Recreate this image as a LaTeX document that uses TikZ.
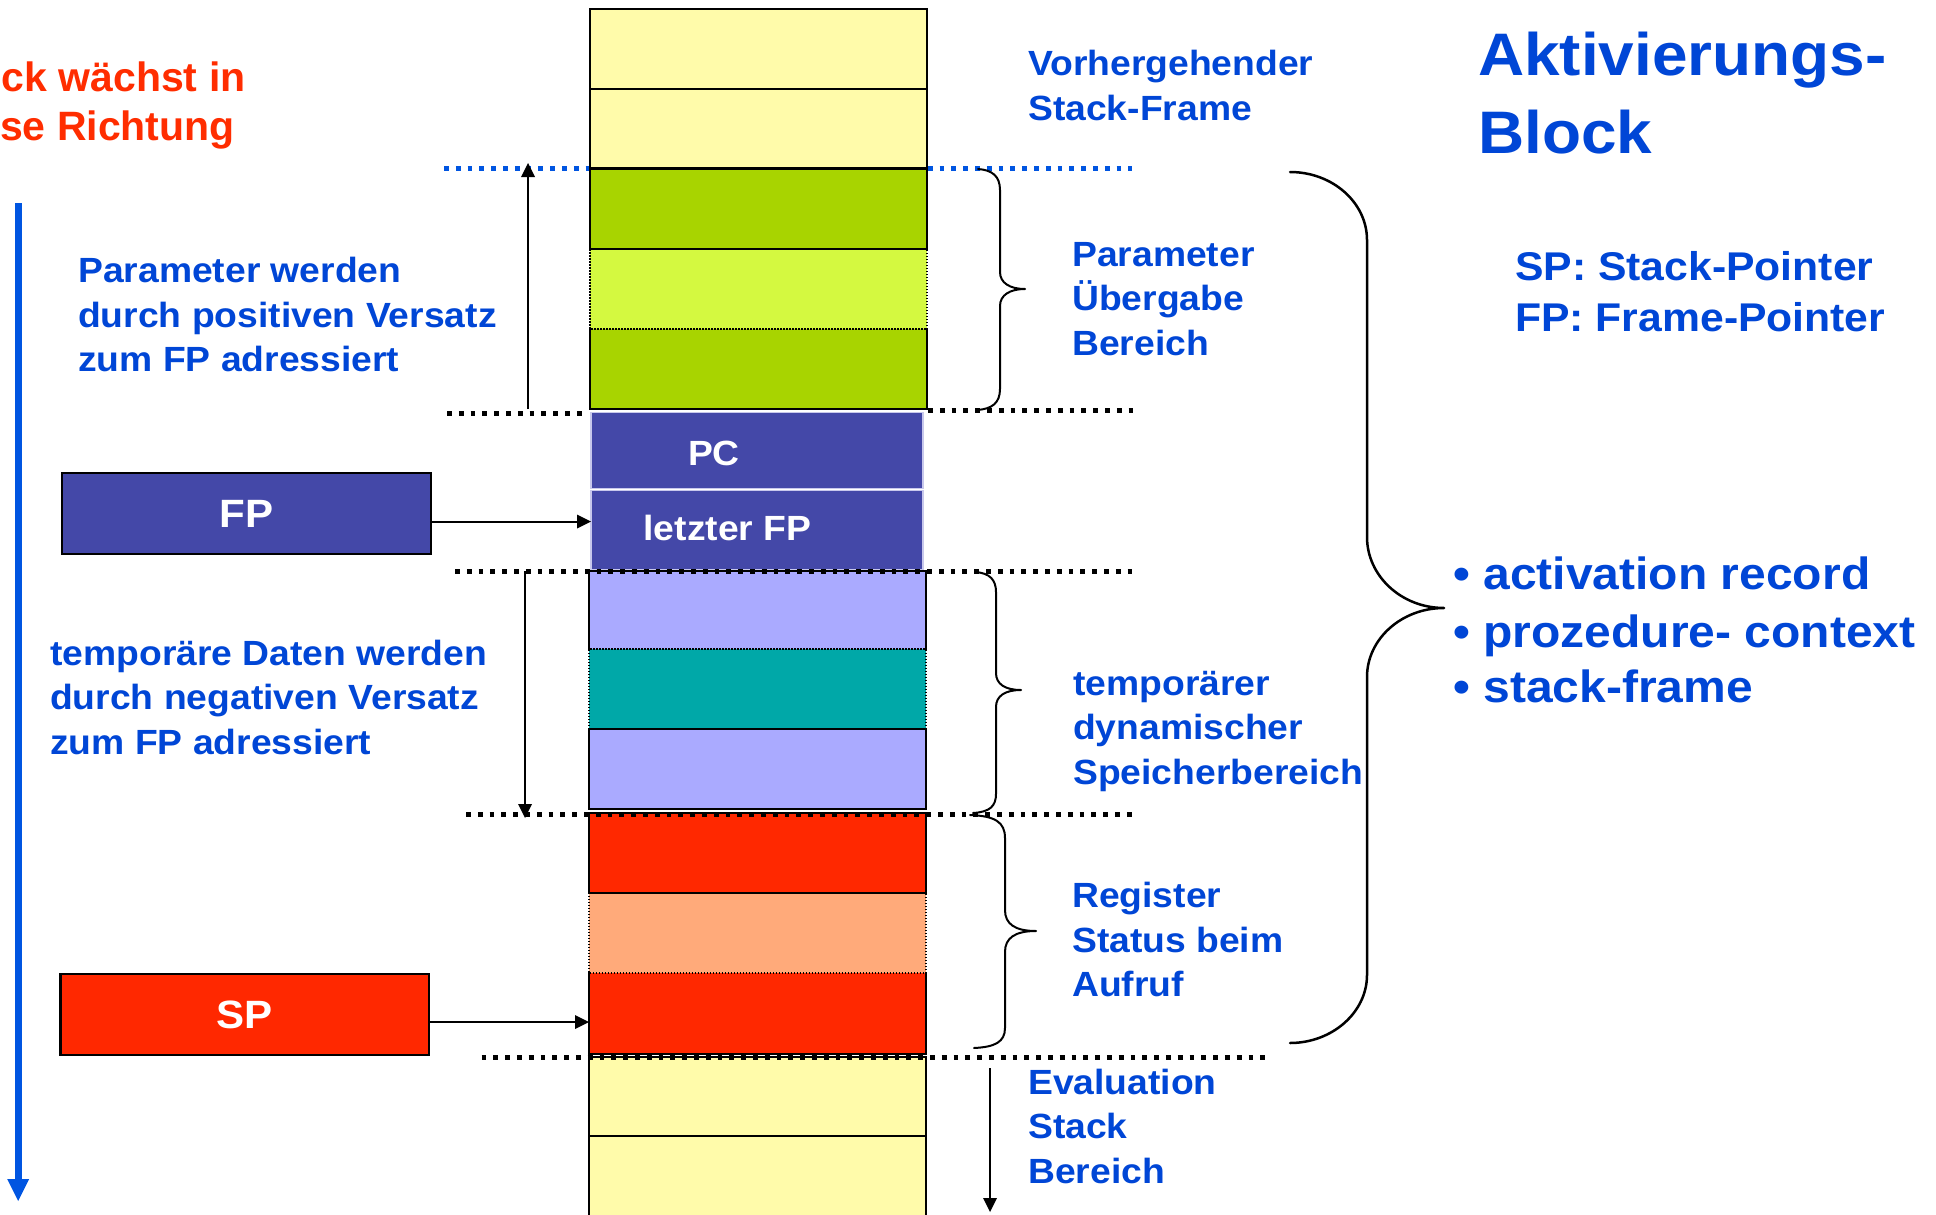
\documentclass[tikz,border=0pt]{standalone}
\usepackage{fontspec}
\setmainfont{Liberation Sans}[FakeStretch=1.065]
\newfontfamily\redfont{Liberation Sans}
\usetikzlibrary{arrows.meta}
\definecolor{tblue}{RGB}{0,70,214}
\definecolor{tred}{RGB}{255,45,0}
\definecolor{cyel}{RGB}{255,251,170}
\definecolor{cgrn}{RGB}{168,212,0}
\definecolor{clgrn}{RGB}{212,249,64}
\definecolor{cpur}{RGB}{68,72,168}
\definecolor{cpurb}{RGB}{200,200,236}
\definecolor{clav}{RGB}{170,170,255}
\definecolor{cteal}{RGB}{0,168,168}
\definecolor{cred}{RGB}{255,40,0}
\definecolor{cpeach}{RGB}{255,170,122}
\definecolor{cdots}{RGB}{0,85,225}
\newcommand{\mlines}[1]{\vtop{\halign{##\hfil\cr#1\crcr}}}
\begin{document}
\begin{tikzpicture}[x=1pt,y=-1pt,
  cell/.style={rectangle,inner sep=0pt,outer sep=0pt,anchor=north west,minimum width=337pt},
  pcell/.style={rectangle,inner sep=0pt,outer sep=0pt,anchor=north west,minimum width=332pt,fill=cpur,draw=cpurb,line width=1.5pt},
  solidb/.style={line width=2pt,line join=miter,line cap=rect},
  dotb/.style={line width=1.8pt,dash pattern=on 1.5pt off 1.5pt},
  sep/.style={line width=5pt,dash pattern=on 4.8pt off 7pt},
  txt/.style={font=\bfseries\fontsize{35}{44.5}\selectfont,text=tblue,inner sep=0pt,anchor=base west},
  wlbl/.style={font=\bfseries\fontsize{35}{44.5}\selectfont,text=white,inner sep=0pt,anchor=base},
  ptrbox/.style={rectangle,draw=black,line width=2.5pt,minimum width=369pt,minimum height=81pt,inner sep=0pt,text=white,font=\bfseries\fontsize{39.5}{46}\selectfont},
  ptr/.style={line width=2pt,-{Triangle[length=14pt,width=14pt,line width=0pt]}},
  brace/.style={line width=2pt,line cap=round,line join=round}
]
\fill[white] (0,0) rectangle (1936,1215);
\useasboundingbox (0,0) rectangle (1936,1215);

% separators under the stack
\draw[sep,cdots] (444,168.5) -- (1132,168.5);
\draw[sep] (447,413) -- (585,413);
\draw[sep] (928,410) -- (1136,410);

% stack cells
\node[cell,fill=cyel,minimum height=80pt] (y1) at (590,9) {};
\node[cell,fill=cyel,minimum height=79.5pt] (y2) at (590,89) {};
\node[cell,fill=cgrn,minimum height=80.5pt] (g1) at (590,168.5) {};
\node[cell,fill=clgrn,minimum height=80pt] (lg) at (590,249) {};
\node[cell,fill=cgrn,minimum height=80pt] (g2) at (590,329) {};
\node[pcell,minimum height=76pt] (pc) at (591,412.5) {};
\node[pcell,minimum height=79pt] (lfp) at (591,490.5) {};
\node[cell,fill=clav,minimum height=78.6pt] (l1) at (589,570.7) {};
\node[cell,fill=cteal,minimum height=79.7pt] (te) at (589,649.3) {};
\node[cell,fill=clav,minimum height=80.3pt] (l2) at (589,729) {};
\node[cell,fill=cred,minimum height=80pt] (r1) at (589,812.7) {};
\node[cell,fill=cpeach,minimum height=80.3pt] (pe) at (589,892.7) {};
\node[cell,fill=cred,minimum height=81pt] (r2) at (589,973) {};
\node[cell,fill=cyel,minimum height=79pt] (y3) at (589,1057) {};
\node[cell,fill=cyel,minimum height=90pt] (y4) at (589,1136) {};

% cell borders
\draw[solidb] (y1.north west) rectangle (y1.south east);
\draw[solidb] (y2.north west) rectangle (y2.south east);
\draw[solidb] (g1.north west) rectangle (g1.south east);
\draw[line width=3.5pt] (g1.north west) -- (g1.north east);
\draw[dotb] (lg.north west) -- (lg.south west) -- (lg.south east) -- (lg.north east);
\draw[solidb] (g2.north west) -- (g2.south west) -- (g2.south east) -- (g2.north east);
\draw[solidb] (l1.south west) -- (l1.north west) -- (l1.north east) -- (l1.south east);
\draw[dotb] (te.south west) -- (te.north west) -- (te.north east) -- (te.south east);
\draw[solidb] (l2.north west) rectangle (l2.south east);
\draw[solidb] (r1.north west) rectangle (r1.south east);
\draw[dotb] (pe.north west) -- (pe.south west) -- (pe.south east) -- (pe.north east);
\draw[solidb] (r2.north west) -- (r2.south west) -- (r2.south east) -- (r2.north east);
\draw[solidb] (y3.north west) rectangle (y3.south east);
\draw[solidb] (y4.south west) -- (y4.north west) -- (y4.north east) -- (y4.south east);

\node[wlbl] (pclbl) at (714,465) {PC};
\node[wlbl] (lfplbl) at (727.5,540) {letzter FP};

% separators over the stack
\draw[sep] (455,571) -- (1132,571);
\draw[sep] (466,814) -- (1132,814);
\draw[sep] (481.5,1057) -- (1265.5,1057);

% pointer boxes
\node[ptrbox,fill=cpur] (fpbox) at (246.5,513.5) {FP};
\node[ptrbox,fill=cred,minimum width=368.5pt] (spbox) at (244.75,1014.5) {SP};
\coordinate (fpa) at ([yshift=-8pt]fpbox.east);
\coordinate (spa) at ([yshift=-7.5pt]spbox.east);
\draw[ptr] (fpa) -- (fpa -| lfp.west);
\draw[ptr] (spa) -- (spa -| r2.west);

% offset arrows
\coordinate (ua0) at (528,409);
\coordinate (ua1) at (528,163);
\draw[ptr] (ua0) -- (ua1);
\coordinate (da0) at (525,571);
\coordinate (da1) at (525,818);
\draw[ptr] (da0) -- (da1);
\coordinate (ea0) at (990,1068);
\coordinate (ea1) at (990,1212);
\draw[ptr] (ea0) -- (ea1);

% growth arrow
\coordinate (ga0) at (18.2,203.3);
\coordinate (ga1) at (18.2,1201);
\draw[line width=7pt,cdots,-{Triangle[length=22pt,width=22pt,line width=0pt]}] (ga0) -- (ga1);

% braces
\draw[brace] (978,169) .. controls (992,170) and (1000,176) .. (1000,190) -- (1000,272)
  .. controls (1000,283) and (1010,289) .. (1025,289)
  .. controls (1010,289) and (1000,295) .. (1000,306) -- (1000,389)
  .. controls (1000,403) and (992,409) .. (977,410);
\draw[brace] (975,572) .. controls (990,573) and (996,580) .. (996,592) -- (996,673)
  .. controls (996,684) and (1005,690) .. (1021,690)
  .. controls (1005,690) and (996,696) .. (996,707) -- (996,794)
  .. controls (996,806) and (990,812) .. (973,813);
\draw[brace] (970,815) .. controls (995,816) and (1005,822) .. (1005,838) -- (1005,910)
  .. controls (1005,924) and (1015,931) .. (1036,931)
  .. controls (1015,931) and (1005,938) .. (1005,952) -- (1005,1028)
  .. controls (1005,1042) and (995,1047) .. (974,1048);
\draw[brace,line width=2.5pt] (1290,172) .. controls (1332.5,172) and (1367,202.5) .. (1367,240) -- (1367,537)
  .. controls (1367,576) and (1401.5,608) .. (1444,608)
  .. controls (1401.5,608) and (1367,639) .. (1367,677) -- (1367,975)
  .. controls (1367,1012.5) and (1332,1043) .. (1290,1043);

% texts
\node[txt,text=tred,font=\redfont\bfseries\fontsize{41}{49}\selectfont] (grow) at (0,91.7) {\mlines{\kern1.5pt ck wächst in\cr se Richtung}};
\node[txt] (ptxt) at (78,282.5) {\mlines{Parameter werden\cr durch positiven Versatz\cr zum FP adressiert}};
\node[txt] (ttxt) at (50,665) {\mlines{temporäre Daten werden\cr durch negativen Versatz\cr zum FP adressiert}};
\node[txt] (vtxt) at (1028,75.6) {\mlines{Vorhergehender\cr Stack-Frame}};
\node[txt] (pbtxt) at (1072,266) {\mlines{Parameter\cr Übergabe\cr Bereich}};
\node[txt] (tdtxt) at (1073,695.4) {\mlines{temporärer\cr dynamischer\cr Speicherbereich}};
\node[txt] (rtxt) at (1072,907.5) {\mlines{Register\cr Status beim\cr Aufruf}};
\node[txt] (etxt) at (1028,1094) {\mlines{Evaluation\cr Stack\cr Bereich}};
\node[txt,font=\bfseries\fontsize{60}{77.4}\selectfont] (title) at (1478,75.6) {\mlines{Aktivierungs-\cr Block}};
\node[txt,font=\bfseries\fontsize{40.1}{51.6}\selectfont] (legend) at (1515,280) {\mlines{SP: Stack-Pointer\cr FP: Frame-Pointer}};
\node[txt,font=\bfseries\fontsize{45.1}{55.2}\selectfont] (bullets) at (1453,589.5) {\mlines{• activation record\cr\noalign{\kern3pt}• prozedure- context\cr • stack-frame}};
\end{tikzpicture}
\end{document}
